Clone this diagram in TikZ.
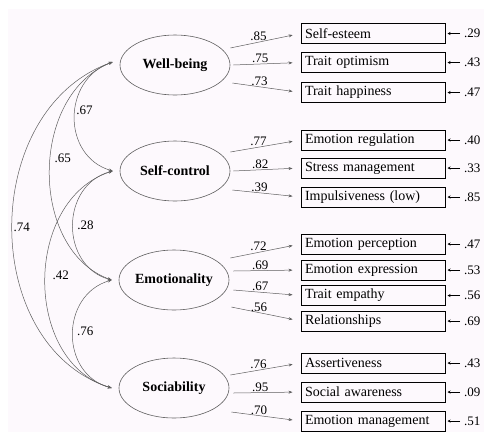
\documentclass[tikz,border=0pt]{standalone}
\usepackage{fontspec}
\setmainfont{Liberation Serif}
\usetikzlibrary{arrows.meta,shapes.geometric}
\definecolor{paper}{RGB}{253,249,253}
\definecolor{linegray}{RGB}{95,95,95}
\tikzset{
  factor/.style={ellipse, draw=linegray, line width=0.6pt, minimum width=110pt, minimum height=60pt, inner sep=0pt, font=\fontsize{14}{16}\selectfont\bfseries},
  item/.style={draw=black, line width=1pt, minimum width=144pt, minimum height=20pt, inner sep=0pt, text width=136pt, align=left, font=\fontsize{14}{16}\selectfont},
  num/.style={font=\fontsize{13}{15}\selectfont, inner sep=1pt},
  load/.style={draw=linegray, line width=0.5pt, -{Stealth[length=4pt,width=3pt]}, shorten >=8pt},
  resid/.style={draw=black, line width=0.6pt, -{Stealth[length=3pt,width=3pt]}, shorten >=2pt, shorten <=3pt},
  cov/.style={draw=linegray, line width=0.5pt, {Stealth[length=4pt,width=3pt]}-{Stealth[length=4pt,width=3pt]}},
}
\begin{document}
\begin{tikzpicture}[x=1pt,y=-1pt]
	\useasboundingbox (0,0) rectangle (484,432);
	\fill[paper] (8,9) rectangle (484,432);
	
	\node[factor] (wb) at (175,65) {Well-being};
	\node[factor] (sc) at (175,171) {Self-control};
	\node[factor] (em) at (174,280) {Emotionality};
	\node[factor] (so) at (174,388) {Sociability};
	
	\foreach \name/\y/\txt/\err in {esteem/33.5/Self-esteem/.29, optim/62.5/Trait optimism/.43, happy/92.5/Trait happiness/.47,
		regul/140/Emotion regulation/.40, stress/168/Stress management/.33, impuls/197/Impulsiveness (low)/.85,
		percep/244/Emotion perception/.47, express/270/Emotion expression/.53, empath/295.5/Trait empathy/.56, relat/321/Relationships/.69,
		assert/363/Assertiveness/.43, social/392/Social awareness/.09, manage/421/Emotion management/.51}{
		\node[item] (\name) at (373,\y) {\txt};
		\node[num, anchor=west] (\name-e) at (463,\y) {\err};
		\draw[resid] (\name-e) -- (\name);
	}
	
	\draw[load] ([yshift=17pt]wb.east) -- node[num, above, pos=.4] {.85} (esteem.west);
	\draw[load] ([xshift=3pt]wb.east) -- node[num, above, pos=.4] {.75} (optim.west);
	\draw[load] ([xshift=2pt,yshift=-18pt]wb.east) -- node[num, above, pos=.4] {.73} (happy.west);
	
	\draw[load] ([yshift=19pt]sc.east) -- node[num, above, pos=.4] {.77} (regul.west);
	\draw[load] ([xshift=3pt]sc.east) -- node[num, above, pos=.4] {.82} (stress.west);
	\draw[load] ([xshift=2pt,yshift=-19pt]sc.east) -- node[num, above, pos=.4] {.39} (impuls.west);
	
	\draw[load] ([xshift=1pt,yshift=22pt]em.east) -- node[num, above, pos=.4] {.72} (percep.west);
	\draw[load] ([xshift=4pt,yshift=9pt]em.east) -- node[num, above, pos=.4] {.69} (express.west);
	\draw[load] ([xshift=4pt,yshift=-10pt]em.east) -- node[num, above, pos=.4] {.67} (empath.west);
	\draw[load] ([xshift=2pt,yshift=-27pt]em.east) -- node[num, above, pos=.4] {.56} (relat.west);
	
	\draw[load] ([xshift=1pt,yshift=13pt]so.east) -- node[num, above, pos=.4] {.76} (assert.west);
	\draw[load] ([xshift=4pt,yshift=-5pt]so.east) -- node[num, above, pos=.4] {.95} (social.west);
	\draw[load] ([xshift=2pt,yshift=-24pt]so.east) -- node[num, above, pos=.4] {.70} (manage.west);
	
	\draw[cov] ([xshift=-7pt,yshift=3pt]wb.west) .. controls (62,80) and (62,156) .. node[num, right, pos=.45] {.67} ([xshift=-7pt]sc.west);
	\draw[cov] ([xshift=-7pt,yshift=3pt]wb.west) .. controls (29,95) and (29,250) .. node[num, right=3pt, pos=.45] {.65} ([xshift=-7pt]em.west);
	\draw[cov] ([xshift=-7pt,yshift=3pt]wb.west) .. controls (-21,110) and (-21,345) .. node[num, right, pos=.5] {.74} ([xshift=-7pt]so.west);
	\draw[cov] ([xshift=-7pt]sc.west) .. controls (60,185) and (60,266) .. node[num, right=3pt, pos=.5] {.28} ([xshift=-7pt]em.west);
	\draw[cov] ([xshift=-7pt]sc.west) .. controls (23,200) and (23,362) .. node[num, right=6pt, pos=.48] {.42} ([xshift=-7pt]so.west);
	\draw[cov] ([xshift=-7pt]em.west) .. controls (60,295) and (60,374) .. node[num, right=3pt, pos=.48] {.76} ([xshift=-7pt]so.west);
\end{tikzpicture}
\end{document}
